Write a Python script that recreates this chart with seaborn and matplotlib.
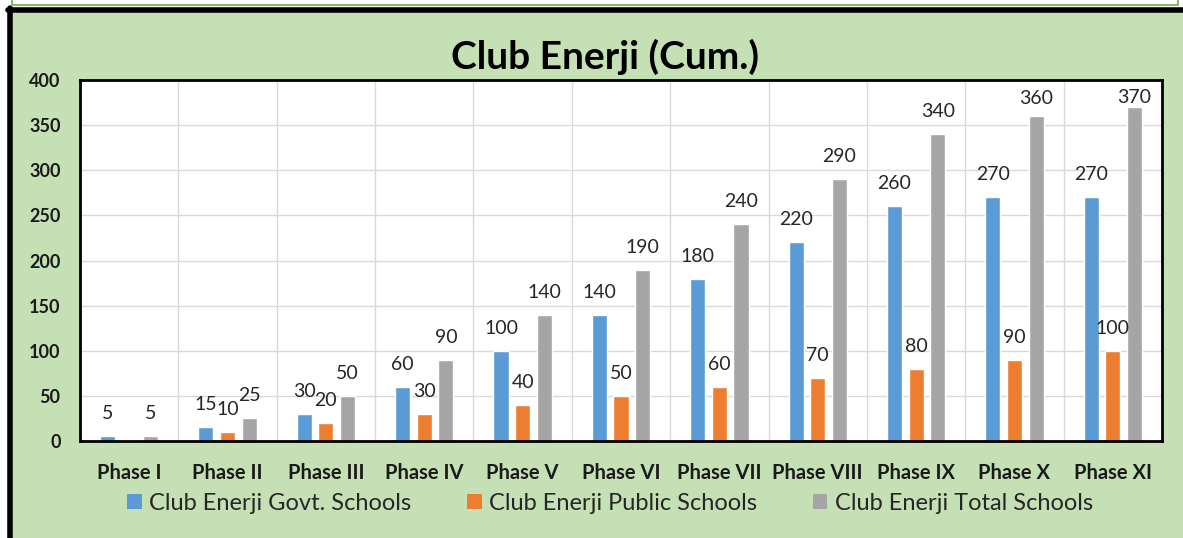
import matplotlib
matplotlib.use("Agg")
import matplotlib.pyplot as plt
from matplotlib.patches import Rectangle
from matplotlib.lines import Line2D
import seaborn as sns
import pandas as pd
import numpy as np

phases = ["Phase I", "Phase II", "Phase III", "Phase IV", "Phase V", "Phase VI",
          "Phase VII", "Phase VIII", "Phase IX", "Phase X", "Phase XI"]
govt = [5, 15, 30, 60, 100, 140, 180, 220, 260, 270, 270]
public = [0, 10, 20, 30, 40, 50, 60, 70, 80, 90, 100]
total = [5, 25, 50, 90, 140, 190, 240, 290, 340, 360, 370]
series_names = ["Club Enerji Govt. Schools", "Club Enerji Public Schools", "Club Enerji Total Schools"]
colors = ["#5B9BD5", "#ED7D31", "#A5A5A5"]
title = "Club Enerji (Cum.)"
yticks = [0, 50, 100, 150, 200, 250, 300, 350, 400]

df = pd.DataFrame({
    "phase": phases * 3,
    "series": [series_names[0]] * len(phases) + [series_names[1]] * len(phases) + [series_names[2]] * len(phases),
    "value": govt + public + total,
})

sns.set_theme(style="white")
plt.rcParams["font.family"] = ["Lato", "DejaVu Sans"]

W, H = 1183, 538
fig = plt.figure(figsize=(W / 100, H / 100), dpi=100)
fig.patch.set_facecolor("white")
# green chart area background
fig.patches.append(Rectangle((10 / W, 0), 1, (H - 10) / H, transform=fig.transFigure,
                             facecolor="#C5E0B4", edgecolor="none", zorder=-2))
fig.lines.append(Line2D([10 / W, 10 / W], [0, (H - 8) / H], transform=fig.transFigure,
                        color="black", lw=4))
fig.lines.append(Line2D([8 / W, 1], [(H - 10) / H, (H - 10) / H], transform=fig.transFigure,
                        color="black", lw=4))
# thin green outline box at top
fig.patches.append(Rectangle((12 / W, (H - 5) / H), 1166 / W, 10 / H, transform=fig.transFigure,
                             facecolor="none", edgecolor="#70AD47", lw=1.2))

ax_h_px = 441 - 80
ax = fig.add_axes([80 / W, (H - 441) / H, (1162 - 80) / W, ax_h_px / H])
ax.set_facecolor("white")

sns.barplot(data=df, x="phase", y="value", hue="series", order=phases,
            hue_order=series_names, palette=colors, width=0.66, gap=0.3,
            saturation=1, ax=ax, legend=False, errorbar=None)

ymax = 400
for cont in ax.containers:
    for bar, v in zip(cont, cont.datavalues):
        if v <= 0:
            continue
        top_px = (ymax - v) * ax_h_px / ymax  # distance of bar top from axes top
        pad_px = max(1, min(14, top_px - 27))
        ax.annotate(f"{int(v)}", xy=(bar.get_x() + bar.get_width() / 2, v),
                    xytext=(0, pad_px * 0.72), textcoords="offset points",
                    ha="center", va="bottom", fontsize=14, color="#262626")

ax.set_ylim(0, ymax)
ax.set_xlim(-0.5, len(phases) - 0.5)
ax.set_yticks(yticks)
ax.set_xticks(np.arange(-0.5, len(phases), 1.0), minor=True)
ax.grid(axis="y", color="#D9D9D9", lw=1)
ax.grid(axis="x", which="minor", color="#D9D9D9", lw=1)
ax.grid(axis="x", which="major", visible=False)
ax.set_axisbelow(True)
ax.set_xlabel("")
ax.set_ylabel("")
ax.tick_params(axis="both", which="both", length=0)
ax.tick_params(axis="y", pad=14, labelsize=13)
ax.tick_params(axis="x", pad=16, labelsize=14.5)
for lab in ax.get_yticklabels():
    lab.set_fontweight("bold")
    lab.set_color("#1a1a1a")
for lab in ax.get_xticklabels():
    lab.set_fontweight("bold")
    lab.set_color("#1a1a1a")
for side in ["left", "bottom", "top", "right"]:
    ax.spines[side].set_visible(True)
    ax.spines[side].set_color("black")
    ax.spines[side].set_linewidth(2)

fig.text(605 / W, (H - 57) / H, title, ha="center", va="center", fontsize=28,
         fontweight="bold", color="black")

handles = [Rectangle((0, 0), 1, 1, facecolor=c, edgecolor="none") for c in colors]
fig.legend(handles, series_names, loc="center", bbox_to_anchor=(610 / W, (H - 503) / H),
           ncol=3, frameon=False, fontsize=17, handlelength=0.6, handleheight=0.6,
           handletextpad=0.3, columnspacing=2.4)

fig.savefig("out.png", dpi=100)
